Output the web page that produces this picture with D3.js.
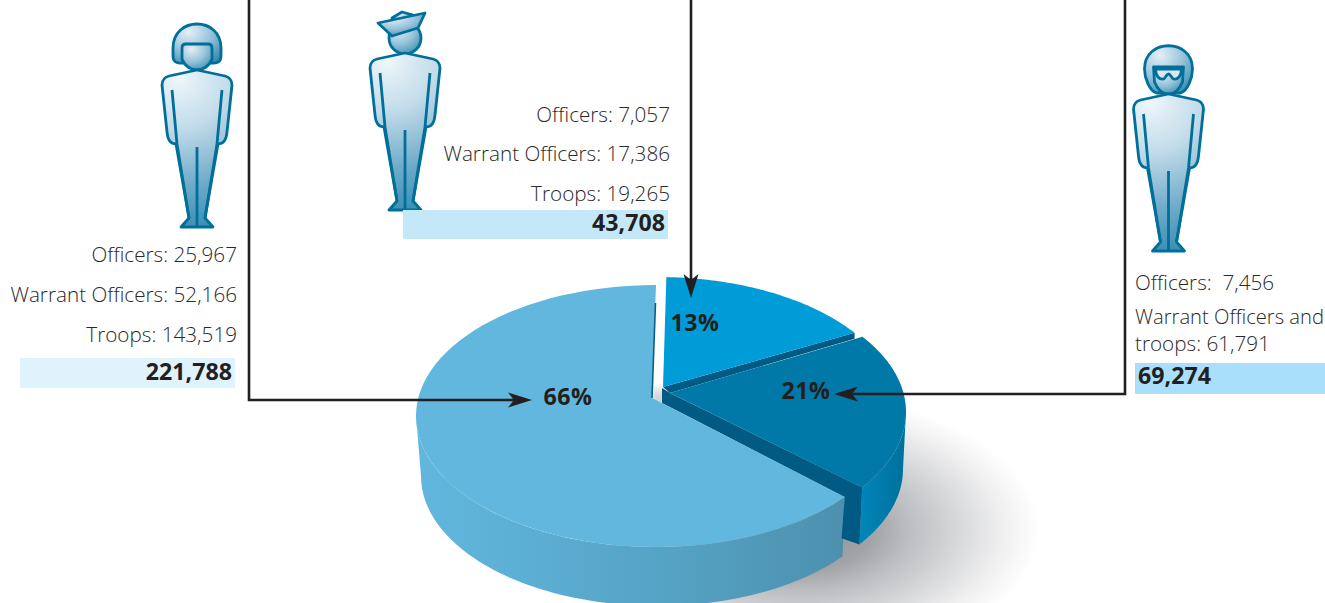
<!DOCTYPE html>
<html>
<head>
<meta charset="utf-8">
<script src="https://cdn.jsdelivr.net/npm/d3@7"></script>
<style>
html, body { margin: 0; padding: 0; background: #fff; }
svg { display: block; }
text { font-family: "Open Sans", "Noto Sans", sans-serif; }
</style>
</head>
<body>
<svg id="chart" width="1325" height="603"></svg>
<script>
// printed labels
const pctLabels = ["13%", "21%", "66%"];
// slice sizes as drawn in the artwork (not quite the printed percentages)
const drawnShares = [14.8, 19.6, 65.6];
const officers = ["7,057", "\u00a07,456", "25,967"];
const warrant = ["17,386", "", "52,166"];
const troops = ["19,265", "", "143,519"];
const combined = ["Warrant Officers and", "troops: 61,791"];
const totals = ["43,708", "69,274", "221,788"];

const sliceColors = ["#009cd8", "#0078a8", "#61b7de"];
const svg = d3.select("#chart");
const defs = svg.append("defs");
const deg = Math.PI / 180;

const bigWall = defs.append("linearGradient").attr("id", "bigWall")
    .attr("gradientUnits", "userSpaceOnUse").attr("x1", 416).attr("x2", 845).attr("y1", 0).attr("y2", 0);
[[0, "#61b7de"], [0.25, "#5cafd4"], [0.6, "#55a2c4"], [1, "#4d90ae"]].forEach(s =>
    bigWall.append("stop").attr("offset", s[0]).attr("stop-color", s[1]));

const sideWall = defs.append("linearGradient").attr("id", "sideWall")
    .attr("gradientUnits", "userSpaceOnUse").attr("x1", 860).attr("x2", 906).attr("y1", 0).attr("y2", 0);
[[0, "#0087ba"], [1, "#006f9c"]].forEach(s =>
    sideWall.append("stop").attr("offset", s[0]).attr("stop-color", s[1]));

const shadow = defs.append("radialGradient").attr("id", "shadow");
[[0, "#8f9094", 1], [0.3, "#a2a3a7", 1], [0.45, "#bcbdc0", 1], [0.65, "#d6d7d9", 1], [0.85, "#f0f0f1", 1], [1, "#fff", 1]].forEach(s =>
    shadow.append("stop").attr("offset", s[0]).attr("stop-color", s[1]).attr("stop-opacity", s[2]));

const skin = defs.append("radialGradient").attr("id", "skin")
    .attr("gradientUnits", "userSpaceOnUse").attr("cx", -18).attr("cy", 8).attr("r", 165);
[[0, "#eef6fa"], [0.3, "#c3dcea"], [0.65, "#6fabc9"], [1, "#2a87ae"]].forEach(s =>
    skin.append("stop").attr("offset", s[0]).attr("stop-color", s[1]));

const headSkin = defs.append("radialGradient").attr("id", "headSkin")
    .attr("cx", 0.32).attr("cy", 0.2).attr("r", 0.95);
[[0, "#e4f0f6"], [0.5, "#99c4da"], [1, "#2f88ae"]].forEach(s =>
    headSkin.append("stop").attr("offset", s[0]).attr("stop-color", s[1]));

defs.append("filter").attr("id", "soft").attr("x", "-20%").attr("y", "-20%").attr("width", "140%").attr("height", "140%")
    .append("feGaussianBlur").attr("stdDeviation", 6);

// Pie: each layer is an ellipse rim, the apex sits off-centre (perspective)
const pie = d3.pie().sort(null).value(d => d)
    .startAngle(2 * deg).endAngle(2 * Math.PI);
const arcs = pie(drawnShares);
// the big slice is cut a bit short of the 21% slice, which shows the dark cut face
const bigCut = 3 * deg;
arcs[2].startAngle += bigCut;

const topRim = [
    { cx: 658, cy: 408, rx: 240, ry: 131, ax: 663, ay: 387 },
    { cx: 666, cy: 412, rx: 240, ry: 131, ax: 670, ay: 393 },
    { cx: 656, cy: 416, rx: 240, ry: 131, ax: 652, ay: 398 }
];
const lowRim = [
    null,
    { cx: 664, cy: 469, rx: 239, ry: 131 },
    { cx: 657, cy: 476, rx: 236, ry: 130 }
];

const line = d3.line();
const rimPts = (e, a0, a1) => d3.range(0, 81).map(i => {
    const t = a0 + (a1 - a0) * i / 80;
    return [e.cx + e.rx * Math.sin(t), e.cy - e.ry * Math.cos(t)];
});
const rimAt = (e, a) => rimPts(e, a, a)[0];

// ground shadow
svg.append("ellipse").attr("cx", 800).attr("cy", 530)
    .attr("rx", 240).attr("ry", 135)
    .attr("fill", "url(#shadow)");
svg.append("rect").attr("x", 650).attr("y", 390).attr("width", 18).attr("height", 18)
    .attr("fill", "#c9cace").attr("filter", "url(#soft)");

// outer walls
const bigStart = arcs[2].startAngle;
svg.append("path")
    .attr("d", line([...rimPts(topRim[2], bigStart, 1.5 * Math.PI), ...rimPts(lowRim[2], 1.5 * Math.PI, bigStart)]) + "Z")
    .attr("fill", "url(#bigWall)");
svg.append("path")
    .attr("d", line([...rimPts(topRim[1], 90 * deg, arcs[1].endAngle), ...rimPts(lowRim[1], arcs[1].endAngle, 90 * deg)]) + "Z")
    .attr("fill", "url(#sideWall)");

// cut faces
const rim1 = rimAt(topRim[1], arcs[1].endAngle);
const low1 = rimAt(lowRim[1], arcs[1].endAngle);
const big0 = rimAt(topRim[2], bigStart);
const lowBig0 = rimAt(lowRim[2], bigStart);
svg.append("path")
    .attr("d", line([[662, 388], [topRim[1].ax, topRim[1].ay], rim1, low1, [lowBig0[0] - 1, lowBig0[1] - 18], big0, [662, 403]]) + "Z")
    .attr("fill", "#005a84");
const end0 = rimAt(topRim[0], arcs[0].endAngle);
const start1 = rimAt(topRim[1], arcs[1].startAngle);
svg.append("path")
    .attr("d", line([[topRim[0].ax, topRim[0].ay], end0, [end0[0], end0[1] + 7], [start1[0] - 8, start1[1] + 2], [topRim[1].ax, topRim[1].ay]]) + "Z")
    .attr("fill", "#005a84");

// top faces
svg.append("g").selectAll("path")
    .data(arcs).join("path")
    .attr("d", (d, i) => {
        const e = topRim[i];
        return line([[e.ax, e.ay], ...rimPts(e, d.startAngle, d.endAngle)]) + "Z";
    })
    .attr("fill", (d, i) => sliceColors[i]);
// thin dark edge of the big slice, on top of its face
svg.append("path")
    .attr("d", line([[652, 398], [655.5, 303]]))
    .attr("stroke", "#0a5f80").attr("stroke-width", 1.6).attr("fill", "none");

// Figures
const figColor = "#006f99";
const figure = (cx, neckY, head) => {
    const g = svg.append("g").attr("transform", `translate(${cx},${neckY})`)
        .attr("stroke", figColor).attr("stroke-width", 2.8)
        .attr("stroke-linejoin", "round").attr("stroke-linecap", "butt");
    head(g);
    g.append("path")
        .attr("d", "M0,0 L28,6 Q35,8 35,15 L30,62 Q29,74 21,74 L8,148 L16,157 L-16,157 L-8,148 L-21,74 Q-29,74 -30,62 L-35,15 Q-35,8 -28,6 Z")
        .attr("fill", "url(#skin)");
    g.append("path")
        .attr("d", "M25,20 L20,74 L8,148 M-25,20 L-20,74 L-8,148 M0,77 L0,157")
        .attr("fill", "none");
};

const helmetHead = g => {
    g.append("path")
        .attr("d", "M-15,-7 Q-24,-6 -24,-14 L-24,-22 C-24,-54 24,-54 24,-22 L24,-14 Q24,-6 15,-7 Z")
        .attr("fill", "url(#headSkin)");
    g.append("path")
        .attr("d", "M-15,-22 Q-15,-26 -11,-26 L11,-26 Q15,-26 15,-22 L15,-11 C12,-3 5,0 0,0 C-5,0 -12,-3 -15,-11 Z")
        .attr("fill", "url(#headSkin)");
};
const capHead = g => {
    g.append("circle").attr("cx", 0).attr("cy", -15).attr("r", 16).attr("fill", "url(#headSkin)");
    g.append("path").attr("d", "M-13,-35 L-3,-41 L8,-38 L6,-28 L-10,-28 Z").attr("fill", "url(#headSkin)");
    g.append("path").attr("d", "M-27,-30 L20,-40 L13,-25 L-13,-17 Z").attr("fill", "url(#headSkin)");
};
const gogglesHead = g => {
    g.append("path")
        .attr("d", "M-12,-1 C-19,-3 -24,-16 -24,-25 C-24,-56 24,-56 24,-25 C24,-16 19,-3 12,-1 Z")
        .attr("fill", "url(#headSkin)");
    g.append("path")
        .attr("d", "M-15,-27 L15,-27 L14,-12 C10,-2 5,0 0,0 C-5,0 -10,-2 -14,-12 Z")
        .attr("fill", "url(#headSkin)");
    g.append("path")
        .attr("d", "M-13,-25 L13,-25 C13,-18 9,-14 5,-15 C3,-16 2,-20 0,-20 C-2,-20 -3,-16 -5,-15 C-9,-14 -13,-18 -13,-25 Z")
        .attr("fill", "#d7e8f1");
};

figure(197, 70, helmetHead);
figure(405, 53, capHead);
figure(1168.5, 94, gogglesHead);

// Total bands
const bands = [
    { x: 403, y: 210, w: 265, h: 29, fill: "#c5e8f8" },
    { x: 1135, y: 363, w: 190, h: 31, fill: "#a9dffa" },
    { x: 20, y: 358, w: 215, h: 30, fill: "#e0f2fb" }
];
svg.append("g").selectAll("rect").data(bands).join("rect")
    .attr("x", d => d.x).attr("y", d => d.y)
    .attr("width", d => d.w).attr("height", d => d.h)
    .attr("fill", d => d.fill);

// Text blocks
const label = (x, y, str, anchor, bold, size) => svg.append("text")
    .attr("x", x).attr("y", y)
    .attr("text-anchor", anchor)
    .attr("font-size", size || (bold ? 23.2 : 20.7))
    .attr("font-weight", bold ? 700 : 300)
    .attr("fill", bold ? "#231f20" : "#2b2929")
    .text(str);

label(237, 262, `Officers: ${officers[2]}`, "end");
label(237, 302, `Warrant Officers: ${warrant[2]}`, "end");
label(237, 342, `Troops: ${troops[2]}`, "end");
label(232, 380, totals[2], "end", true);

label(670, 122, `Officers: ${officers[0]}`, "end");
label(670, 161, `Warrant Officers: ${warrant[0]}`, "end");
label(670, 201, `Troops: ${troops[0]}`, "end");
label(665, 231, totals[0], "end", true);

label(1135, 290, `Officers: ${officers[1]}`, "start");
label(1135, 324, combined[0], "start", false, 20.2);
label(1135, 351, combined[1], "start");
label(1138, 384, totals[1], "start", true);

// Connectors
const ink = "#231f20";
const connectors = [
    [[249, 0], [249, 400], [515, 400]],
    [[691, 0], [691, 282]],
    [[1125, 0], [1125, 394], [850, 394]]
];
svg.append("g").selectAll("path").data(connectors).join("path")
    .attr("d", d => line(d))
    .attr("fill", "none").attr("stroke", ink).attr("stroke-width", 2.6);

const arrow = (x, y, rot) => svg.append("path")
    .attr("transform", `translate(${x},${y}) rotate(${rot})`)
    .attr("d", "M0,0 L-24,-7.5 L-18,0 L-24,7.5 Z")
    .attr("fill", ink);
arrow(532, 400, 0);
arrow(691, 298, 90);
arrow(834, 394, 180);

// Percent labels
const pctPos = [[695, 331], [806, 399], [568, 405]];
svg.append("g").selectAll("text").data(pctLabels).join("text")
    .attr("x", (d, i) => pctPos[i][0]).attr("y", (d, i) => pctPos[i][1])
    .attr("text-anchor", "middle")
    .attr("font-size", 23.2).attr("font-weight", 700)
    .attr("letter-spacing", 0.5)
    .attr("fill", ink)
    .text(d => d);
</script>
</body>
</html>
